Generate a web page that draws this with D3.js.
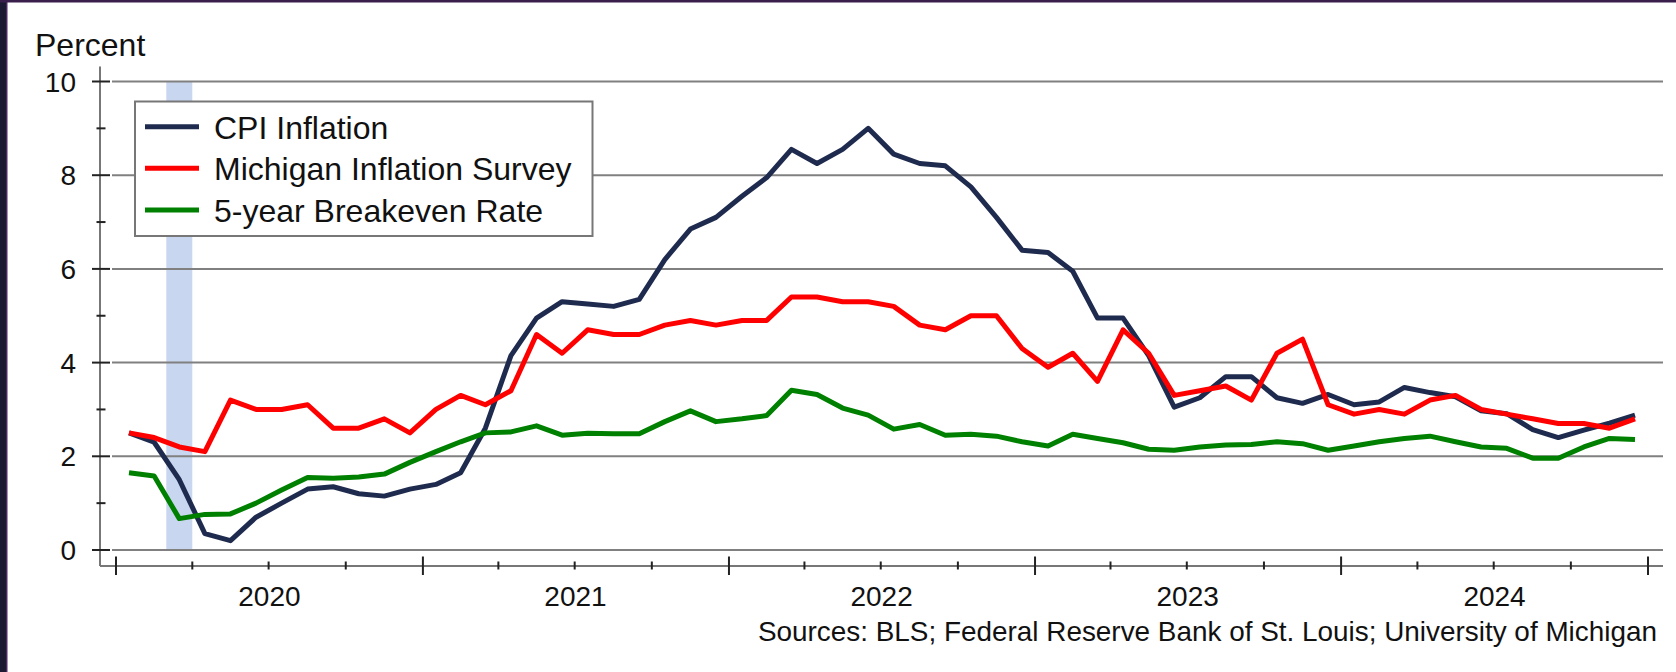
<!DOCTYPE html>
<html>
<head>
<meta charset="utf-8">
<script src="https://cdn.jsdelivr.net/npm/d3@7"></script>
<style>
  html, body { margin: 0; padding: 0; background: #fff; }
  svg { display: block; }
  text { font-family: "Liberation Sans", Arial, sans-serif; fill: #111; }
</style>
</head>
<body>
<div id="chart"></div>
<script>
// monthly series, Jan 2020 .. Dec 2024
var startYear = 2020;
var cpi = [2.5, 2.3, 1.5, 0.35, 0.2, 0.7, 1.0, 1.3, 1.35, 1.2, 1.15, 1.3,
  1.4, 1.65, 2.6, 4.15, 4.95, 5.3, 5.25, 5.2, 5.35, 6.2, 6.85, 7.1,
  7.55, 7.95, 8.55, 8.25, 8.55, 9.0, 8.45, 8.25, 8.2, 7.75, 7.1, 6.4,
  6.35, 5.95, 4.95, 4.95, 4.15, 3.05, 3.25, 3.7, 3.7, 3.25, 3.13, 3.32,
  3.1, 3.16, 3.47, 3.36, 3.27, 2.97, 2.91, 2.57, 2.4, 2.56, 2.71, 2.88];
var michigan = [2.5, 2.4, 2.2, 2.1, 3.2, 3.0, 3.0, 3.1, 2.6, 2.6, 2.8, 2.5,
  3.0, 3.3, 3.1, 3.4, 4.6, 4.2, 4.7, 4.6, 4.6, 4.8, 4.9, 4.8,
  4.9, 4.9, 5.4, 5.4, 5.3, 5.3, 5.2, 4.8, 4.7, 5.0, 5.0, 4.3,
  3.9, 4.2, 3.6, 4.7, 4.2, 3.3, 3.4, 3.5, 3.2, 4.2, 4.5, 3.1,
  2.9, 3.0, 2.9, 3.2, 3.3, 3.0, 2.9, 2.8, 2.7, 2.7, 2.6, 2.8];
var breakeven = [1.65, 1.58, 0.67, 0.76, 0.77, 1.0, 1.28, 1.55, 1.53, 1.56, 1.62, 1.87,
  2.1, 2.31, 2.5, 2.52, 2.65, 2.45, 2.49, 2.48, 2.48, 2.74, 2.97, 2.74,
  2.8, 2.87, 3.41, 3.32, 3.03, 2.88, 2.58, 2.68, 2.45, 2.47, 2.43, 2.31,
  2.22, 2.47, 2.38, 2.29, 2.15, 2.13, 2.2, 2.24, 2.25, 2.31, 2.27, 2.13,
  2.22, 2.31, 2.38, 2.43, 2.31, 2.2, 2.17, 1.96, 1.96, 2.2, 2.38, 2.36];

var seriesNames = ["CPI Inflation", "Michigan Inflation Survey", "5-year Breakeven Rate"];
var seriesColors = ["#1f2b4e", "#ff0000", "#008000"];
var yearLabels = ["2020", "2021", "2022", "2023", "2024"];
var recession = [new Date(2020, 2, 1), new Date(2020, 3, 1)];

var width = 1676, height = 672;

var x = d3.scaleTime()
  .domain([new Date(2020, 0, 1), new Date(2025, 0, 1)])
  .range([116, 1648]);
var y = d3.scaleLinear()
  .domain([0, 10])
  .range([550, 81.5]);

// points sit in the middle of each month
function midMonth(i) {
  var a = new Date(startYear, i, 1), b = new Date(startYear, i + 1, 1);
  return new Date((a.getTime() + b.getTime()) / 2);
}

var svg = d3.select("#chart")
  .append("svg")
  .attr("width", width)
  .attr("height", height);

// frame strips on left and top
svg.append("rect").attr("x", 0).attr("y", 0).attr("width", 6).attr("height", height).attr("fill", "#1b1a32");
svg.append("rect").attr("x", 6).attr("y", 0).attr("width", 1.5).attr("height", height).attr("fill", "#4a2a62");
svg.append("rect").attr("x", 0).attr("y", 0).attr("width", width).attr("height", 2.5).attr("fill", "#3a1f4c");

// recession shading
svg.append("rect")
  .attr("x", x(recession[0]))
  .attr("y", y(10))
  .attr("width", x(recession[1]) - x(recession[0]))
  .attr("height", y(0) - y(10))
  .attr("fill", "#c9d6ef");

// gridlines
var majorY = d3.range(0, 11, 2);
var minorY = d3.range(1, 10, 2);
svg.append("g").selectAll("line")
  .data(majorY)
  .enter().append("line")
  .attr("x1", 112).attr("x2", 1663)
  .attr("y1", d => y(d)).attr("y2", d => y(d))
  .attr("stroke", "#808080")
  .attr("stroke-width", 2);

// y axis
var yAxis = svg.append("g");
yAxis.append("line")
  .attr("x1", 100).attr("x2", 100)
  .attr("y1", 66.5).attr("y2", 566)
  .attr("stroke", "#777").attr("stroke-width", 2);
yAxis.selectAll(".major")
  .data(majorY)
  .enter().append("line")
  .attr("x1", 92).attr("x2", 110)
  .attr("y1", d => y(d)).attr("y2", d => y(d))
  .attr("stroke", "#222").attr("stroke-width", 2);
yAxis.selectAll(".minor")
  .data(minorY)
  .enter().append("line")
  .attr("x1", 96.5).attr("x2", 105.5)
  .attr("y1", d => y(d)).attr("y2", d => y(d))
  .attr("stroke", "#222").attr("stroke-width", 2);
yAxis.selectAll("text")
  .data(majorY)
  .enter().append("text")
  .attr("x", 76)
  .attr("y", d => y(d) + 10)
  .attr("text-anchor", "end")
  .style("font-size", "28px")
  .text(d => d);

svg.append("text")
  .attr("x", 35)
  .attr("y", 56)
  .style("font-size", "32px")
  .text("Percent");

// x axis
var xAxisY = 566;
var xAxis = svg.append("g");
xAxis.append("line")
  .attr("x1", 100).attr("x2", 1663)
  .attr("y1", xAxisY).attr("y2", xAxisY)
  .attr("stroke", "#777").attr("stroke-width", 2);
var years = d3.timeYear.range(new Date(2020, 0, 1), new Date(2025, 0, 2));
var quarters = d3.timeMonth.every(3).range(new Date(2020, 0, 1), new Date(2025, 0, 1))
  .filter(d => d.getMonth() != 0);
xAxis.selectAll(".major")
  .data(years)
  .enter().append("line")
  .attr("x1", d => x(d)).attr("x2", d => x(d))
  .attr("y1", 556.5).attr("y2", 575)
  .attr("stroke", "#222").attr("stroke-width", 2);
xAxis.selectAll(".minor")
  .data(quarters)
  .enter().append("line")
  .attr("x1", d => x(d)).attr("x2", d => x(d))
  .attr("y1", 561.5).attr("y2", 569.5)
  .attr("stroke", "#222").attr("stroke-width", 2);
xAxis.selectAll("text")
  .data(yearLabels)
  .enter().append("text")
  .attr("x", d => x(new Date(+d, 6, 2)))
  .attr("y", 606)
  .attr("text-anchor", "middle")
  .style("font-size", "28px")
  .text(d => d);

// lines
var line = d3.line()
  .x((d, i) => x(midMonth(i)))
  .y(d => y(d));

[cpi, michigan, breakeven].forEach(function(values, k) {
  svg.append("path")
    .datum(values)
    .attr("d", line)
    .attr("fill", "none")
    .attr("stroke", seriesColors[k])
    .attr("stroke-width", 5)
    .attr("stroke-linejoin", "round");
});

// legend
var legend = svg.append("g");
legend.append("rect")
  .attr("x", 135).attr("y", 101.5)
  .attr("width", 457.5).attr("height", 134.5)
  .attr("fill", "#fff")
  .attr("stroke", "#777").attr("stroke-width", 2);
var rowY = [126.7, 168.3, 210];
var rows = legend.selectAll(".row")
  .data(seriesNames)
  .enter().append("g");
rows.append("line")
  .attr("x1", 145).attr("x2", 199)
  .attr("y1", (d, i) => rowY[i]).attr("y2", (d, i) => rowY[i])
  .attr("stroke", (d, i) => seriesColors[i])
  .attr("stroke-width", 5);
rows.append("text")
  .attr("x", 214)
  .attr("y", (d, i) => rowY[i] + 12)
  .style("font-size", "32px")
  .text(d => d);

svg.append("text")
  .attr("x", 1657)
  .attr("y", 641)
  .attr("text-anchor", "end")
  .style("font-size", "27.9px")
  .text("Sources: BLS; Federal Reserve Bank of St. Louis; University of Michigan");
</script>
</body>
</html>
